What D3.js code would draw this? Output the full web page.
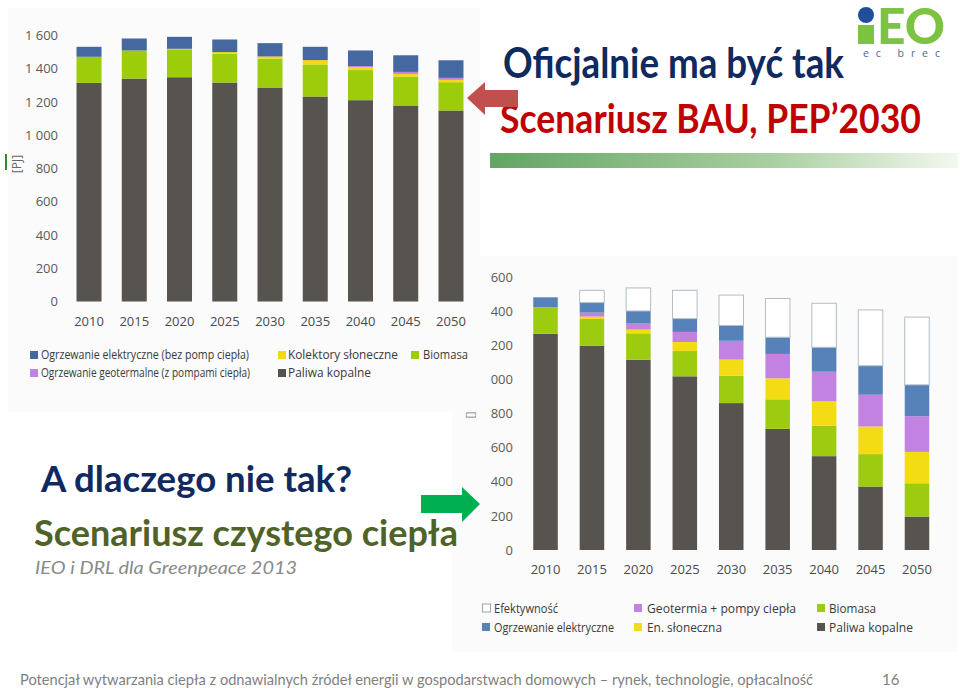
<!DOCTYPE html>
<html><head><meta charset="utf-8">
<script src="https://cdn.jsdelivr.net/npm/d3@7"></script>
<style>body{margin:0;background:#fff}svg{display:block}</style>
</head><body><svg id="c" width="960" height="688"></svg>
<script>
// ---- data ----
const years = ["2010","2015","2020","2025","2030","2035","2040","2045","2050"];
// BAU (PEP 2030) scenario [PJ]
const bauFossil   = [1315,1341,1349,1317,1287,1233,1211,1179,1149];
const bauBiomass  = [157,169,168,173,173,193,181,174,170];
const bauSolar    = [0,0,3,10,14,26,18,16,14];
const bauGeo      = [0,0,0,0,0,0,6,12,12];
const bauElectric = [60,72,72,76,80,80,94,100,106];
// Clean heat scenario [PJ]
const cleanFossil     = [1268,1198,1115,1018,861,710,550,372,196];
const cleanBiomass    = [155,156,155,148,161,173,178,190,195];
const cleanSolar      = [0,14,22,53,94,123,143,162,184];
const cleanGeo        = [0,23,35,59,110,143,174,186,209];
const cleanElectric   = [58,59,74,78,90,98,143,170,184];
const cleanEfficiency = [0,72,135,166,178,227,258,327,397];
const yTicks = [0,200,400,600,800,1000,1200,1400,1600];
const bauTickLabels = ["0","200","400","600","800","1 000","1 200","1 400","1 600"];
const cleanTickLabels = ["0","200","400","600","800","000","200","400","600"];

const svg = d3.select("#c");
svg.append("rect").attr("width",960).attr("height",688).attr("fill","#fff");

// panels
svg.append("rect").attr("x",8).attr("y",8).attr("width",472).attr("height",404).attr("fill","#fbfbfb");
svg.append("rect").attr("x",452).attr("y",256).attr("width",505).attr("height",396).attr("fill","#fbfbfb");

const axisFont = "'Open Sans', 'Noto Sans', sans-serif";

function drawChart(cfg){
  const g = svg.append("g");
  const x = d3.scaleBand().domain(years).range(cfg.xr).paddingInner(cfg.pi).paddingOuter(cfg.pi/2);
  const y = d3.scaleLinear().domain([0,1600]).range(cfg.yr);
  const table = years.map((yr,i)=>{const o={year:yr}; cfg.series.forEach(s=>o[s.key]=s.values[i]); return o;});
  const stack = d3.stack().keys(cfg.series.map(s=>s.key))(table);
  cfg.series.forEach((s,si)=>{
    g.append("g").selectAll("rect").data(stack[si]).join("rect")
      .attr("x",d=>x(d.data.year)).attr("width",x.bandwidth())
      .attr("y",d=>y(d[1])).attr("height",d=>Math.max(0,y(d[0])-y(d[1])))
      .attr("fill",s.color)
      .attr("stroke",s.stroke||"none").attr("stroke-width",s.stroke?1:0)
      .attr("display",d=>d[1]-d[0]>0?null:"none");
  });
  const ya = g.append("g").attr("transform",`translate(${cfg.yLabelX},0)`)
    .call(d3.axisLeft(y).tickValues(yTicks).tickSize(0).tickPadding(0).tickFormat((d,i)=>cfg.tickLabels[i]));
  ya.select(".domain").remove();
  ya.selectAll("text").attr("font-family",axisFont).attr("font-size",13).attr("fill","#595959");
  const xa = g.append("g").attr("transform",`translate(0,${cfg.yr[0]})`)
    .call(d3.axisBottom(x).tickSize(0).tickPadding(15));
  xa.select(".domain").remove();
  xa.selectAll("text").attr("font-family",axisFont).attr("font-size",13).attr("fill","#4a4a4a");
}

drawChart({
  xr:[66.4,473.6], pi:0.4475, yr:[301.5,35.5], yLabelX:58, tickLabels:bauTickLabels,
  series:[
    {key:"fossil",values:bauFossil,color:"#57534e"},
    {key:"biomass",values:bauBiomass,color:"#9ccc0a"},
    {key:"solar",values:bauSolar,color:"#f3da10"},
    {key:"geo",values:bauGeo,color:"#c084df"},
    {key:"electric",values:bauElectric,color:"#44689f"}
  ]
});
drawChart({
  xr:[522.3,940.2], pi:0.472, yr:[550,277], yLabelX:513, tickLabels:cleanTickLabels,
  series:[
    {key:"fossil",values:cleanFossil,color:"#57534e"},
    {key:"biomass",values:cleanBiomass,color:"#9ccb10"},
    {key:"solar",values:cleanSolar,color:"#f4dc14"},
    {key:"geo",values:cleanGeo,color:"#c282e2"},
    {key:"electric",values:cleanElectric,color:"#5682b9"},
    {key:"eff",values:cleanEfficiency,color:"#ffffff",stroke:"#b4bcc6"}
  ]
});

// legends
function legendItem(sx, cy, color, label, tx, tlen, size, stroke){
  svg.append("rect").attr("x",sx).attr("y",cy-4).attr("width",8).attr("height",8)
    .attr("fill",color).attr("stroke",stroke||"none").attr("stroke-width",stroke?1:0);
  svg.append("text").attr("x",tx).attr("y",cy).attr("dy","0.35em").text(label)
    .attr("font-family",axisFont).attr("font-size",size).attr("fill","#3a3a3a")
    .attr("textLength",tlen).attr("lengthAdjust","spacingAndGlyphs");
}
legendItem(30,355,"#44689f","Ogrzewanie elektryczne (bez pomp ciepła)",41,208,12.5);
legendItem(30,373,"#c084df","Ogrzewanie geotermalne (z pompami ciepła)",41,209,12.5);
legendItem(278,355,"#f3da10","Kolektory słoneczne",288,110,12.5);
legendItem(278,373,"#57534e","Paliwa kopalne",288,83,12.5);
legendItem(411,355,"#9ccc0a","Biomasa",423,45,12.5);

legendItem(482.5,608,"#ffffff","Efektywność",494,64,13,"#9aa3ad");
legendItem(482,627,"#5682b9","Ogrzewanie elektryczne",494,120,13);
legendItem(634,608,"#c282e2","Geotermia + pompy ciepła",647,149,13);
legendItem(634,627,"#f4dc14","En. słoneczna",647,75,13);
legendItem(817,608,"#9ccb10","Biomasa",829,47,13);
legendItem(817,627,"#57534e","Paliwa kopalne",829,84,13);

// axis unit labels
svg.append("rect").attr("x",5).attr("y",154).attr("width",2).attr("height",16).attr("fill","#2e8b2e");
svg.append("text").attr("transform","translate(21,164) rotate(-90)").attr("text-anchor","middle")
  .attr("font-family",axisFont).attr("font-size",12).attr("fill","#666").text("[PJ]");
svg.append("text").attr("transform","translate(474,415) rotate(-90)").attr("text-anchor","middle")
  .attr("font-family",axisFont).attr("font-size",10).attr("fill","#777").text("[]");

// titles
const titleFont = "Lato, 'Open Sans', sans-serif";
function ttext(x,y,str,size,color,len,opts){
  const t = svg.append("text").attr("x",x).attr("y",y).text(str)
    .attr("font-family",titleFont).attr("font-size",size).attr("fill",color)
    .attr("font-weight",(opts&&opts.weight)||"bold")
    .attr("textLength",len).attr("lengthAdjust","spacingAndGlyphs");
  if(opts&&opts.italic) t.attr("font-style","italic");
  return t;
}
ttext(503,78,"Oficjalnie ma być tak",42,"#10295f",341);
ttext(500,133,"Scenariusz BAU, PEP’2030",41,"#c00000",421);
ttext(41,492,"A dlaczego nie tak?",36,"#10295f",311);
ttext(34,546,"Scenariusz czystego ciepła",36,"#4f6228",424);
ttext(35,574,"IEO i DRL dla Greenpeace 2013",17,"#8a8a8a",262,{weight:"normal",italic:true});

// gradient bar
const defs = svg.append("defs");
const lg = defs.append("linearGradient").attr("id","gb").attr("x1","0").attr("x2","1").attr("y1","0").attr("y2","0");
lg.append("stop").attr("offset","0").attr("stop-color","#63a563");
lg.append("stop").attr("offset","0.6").attr("stop-color","#a9cfa0");
lg.append("stop").attr("offset","1").attr("stop-color","#f2f8ee");
svg.append("rect").attr("x",490).attr("y",153).attr("width",468).attr("height",15).attr("fill","url(#gb)");

// arrows
svg.append("polygon").attr("points","467,98 485,82 485,90 518,90 518,107 485,107 485,115").attr("fill","#c0504d");
svg.append("polygon").attr("points","421,495 462,495 462,487 480,504 462,522 462,513 421,513").attr("fill","#00b050");

// logo
svg.append("circle").attr("cx",866).attr("cy",15).attr("r",8).attr("fill","#1f4e9a");
svg.append("rect").attr("x",858).attr("y",25).attr("width",16).attr("height",19).attr("fill","#7cc243");
svg.append("text").attr("x",877).attr("y",44).text("EO").attr("font-family",titleFont).attr("font-weight",900)
  .attr("font-size",50).attr("fill","#7cc243").attr("textLength",68).attr("lengthAdjust","spacingAndGlyphs");
svg.append("text").attr("x",863).attr("y",57).text("ec brec").attr("font-family",axisFont)
  .attr("font-size",10.5).attr("fill","#4a6a9a").attr("textLength",77).attr("lengthAdjust","spacing");

// footer
svg.append("text").attr("x",20).attr("y",685).text("Potencjał wytwarzania ciepła z odnawialnych źródeł energii w gospodarstwach domowych – rynek, technologie, opłacalność")
  .attr("font-family",titleFont).attr("font-size",15).attr("fill","#7f7f7f").attr("textLength",793).attr("lengthAdjust","spacingAndGlyphs");
svg.append("text").attr("x",882).attr("y",685).text("16").attr("font-family",titleFont).attr("font-size",15)
  .attr("fill","#7f7f7f");
</script></body></html>
